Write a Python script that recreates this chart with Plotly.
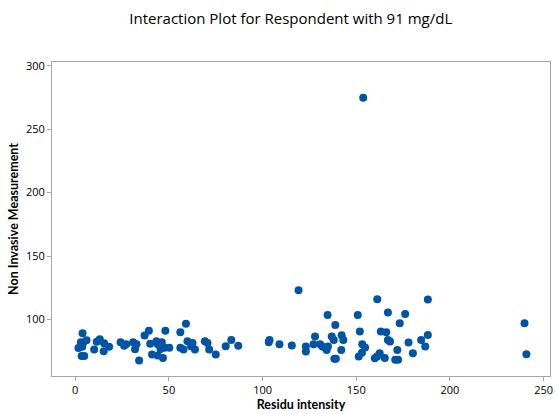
import plotly.graph_objects as go

residu_intensity = [
    3.9, 3.0, 4.1, 6.0, 1.7, 3.7, 3.4, 4.8, 10.1, 11.5, 13.1, 15.4, 15.2, 18.1,
    24.2, 26.1, 27.2, 30.9, 32.7, 31.9, 34.1, 37.0, 39.3, 40.0, 41.0, 43.3, 44.0,
    46.2, 48.1, 45.5, 47.6, 50.2, 44.0, 46.8, 56.1, 59.1, 56.1, 57.8, 59.9, 62.6,
    61.8, 63.9, 69.2, 70.6, 71.5, 75.0, 80.3, 83.3, 87.0,
    103.7, 103.3, 109.0, 115.6, 119.2, 123.1, 123.1, 128.0, 127.2, 130.7, 131.9,
    133.7, 134.9, 134.2, 134.7, 138.8, 136.9, 138.0, 142.2, 143.1, 142.0, 138.3,
    139.1, 150.8, 151.9, 161.2, 166.9, 176.1, 173.2, 163.1, 166.0, 166.9, 168.0,
    153.2, 154.7, 153.0, 151.3, 162.5, 161.1, 159.9, 165.2, 171.9, 170.8, 172.3,
    177.9, 180.2, 184.6, 188.2, 186.8, 188.2, 153.7,
    239.8, 240.8,
]
non_invasive = [
    89.0, 82.0, 81.2, 83.5, 77.3, 78.3, 71.0, 71.0, 76.2, 82.4, 84.3, 81.2, 74.9, 78.4,
    82.0, 79.2, 80.4, 82.0, 80.4, 76.5, 67.5, 87.2, 91.0, 80.8, 72.3, 82.7, 80.4,
    82.0, 91.1, 76.7, 77.5, 77.5, 71.5, 69.6, 89.8, 96.6, 77.5, 76.2, 82.7, 81.4,
    78.8, 76.2, 82.7, 81.4, 76.2, 72.3, 78.8, 83.8, 79.2,
    83.8, 82.0, 80.4, 79.4, 123.0, 78.6, 74.7, 86.4, 80.4, 80.4, 78.6,
    77.3, 78.6, 75.9, 103.4, 95.5, 86.4, 83.8, 87.5, 83.8, 75.9, 68.9,
    68.9, 103.4, 90.4, 115.9, 105.5, 104.2, 96.9, 90.4, 89.8, 83.8, 82.5,
    80.4, 77.8, 73.7, 70.7, 73.3, 70.7, 69.4, 69.6, 75.9, 68.1, 68.1,
    81.7, 73.3, 83.8, 87.7, 78.6, 115.7, 274.9,
    96.9, 72.5,
]

x_ticks = [0, 50, 100, 150, 200, 250]
y_ticks = [100, 150, 200, 250, 300]

title_text = "Interaction Plot for Respondent with 91 mg/dL"
x_title = "Residu intensity"
y_title = "Non Invasive Measurement"

FONT = "Open Sans"
TITLE_FONT = "Lato"

fig = go.Figure(
    go.Scatter(
        x=residu_intensity,
        y=non_invasive,
        mode="markers",
        marker=dict(color="#0054A6", size=8, line=dict(width=0)),
        hoverinfo="x+y",
    )
)

axis_common = dict(
    showgrid=False,
    zeroline=False,
    showline=True,
    linecolor="#a6a6a6",
    linewidth=1,
    mirror=True,
    ticks="outside",
    ticklen=4,
    tickcolor="#a6a6a6",
    tickfont=dict(family=FONT, size=11, color="#000000"),
)

fig.update_layout(
    width=557,
    height=414,
    margin=dict(l=52, r=4, t=62, b=36),
    paper_bgcolor="white",
    plot_bgcolor="white",
    showlegend=False,
    title=dict(
        text=title_text,
        x=0.522,
        xanchor="center",
        y=0.955,
        yanchor="middle",
        font=dict(family=FONT, size=15, color="#000000"),
    ),
    xaxis=dict(
        range=[-12.4, 253.4],
        tickvals=x_ticks,
        title=dict(text=x_title, standoff=4,
                   font=dict(family=TITLE_FONT, size=12.5, color="#000000", weight="bold")),
        **axis_common,
    ),
    yaxis=dict(
        range=[55.3, 303.1],
        tickvals=y_ticks,
        title=dict(text=y_title, standoff=4,
                   font=dict(family=TITLE_FONT, size=12.5, color="#000000", weight="bold")),
        **axis_common,
    ),
)

fig.write_html("out.html")
